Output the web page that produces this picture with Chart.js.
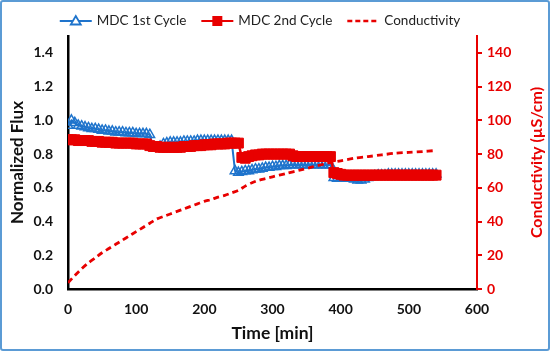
<!DOCTYPE html>
<html>
<head>
<meta charset="utf-8">
<script src="https://cdn.jsdelivr.net/npm/chart.js@4"></script>
<style>
  html, body { margin: 0; padding: 0; background: #fff; }
  #wrap { position: relative; width: 550px; height: 351px; }
  #frame { position: absolute; left: 0; top: 0; width: 550px; height: 351px; box-sizing: border-box;
           border: 2px solid #5b9bd5; border-radius: 3px; pointer-events: none; }
</style>
</head>
<body>
<div id="wrap">
  <canvas id="chart" width="550" height="351"></canvas>
  <div id="frame"></div>
</div>
<script>
// Data
const fluxTime = [0,5,10,15,20,25,30,35,40,45,50,55,60,65,70,75,80,85,90,95,
  100,105,110,115,120,125,130,135,140,145,150,155,160,165,170,175,180,185,190,195,
  200,205,210,215,220,225,230,235,240,245,250,255,260,265,270,275,280,285,290,295,
  300,305,310,315,320,325,330,335,340,345,350,355,360,365,370,375,380,385,390,395,
  400,405,410,415,420,425,430,435,440,445,450,455,460,465,470,475,480,485,490,495,
  500,505,510,515,520,525,530,535,540];

const cycle1Flux = [0.97,1.00,0.985,0.97,0.965,0.96,0.955,0.95,0.95,0.945,0.94,0.94,0.935,0.935,0.93,0.93,0.93,0.925,0.925,0.925,
  0.92,0.92,0.92,0.92,0.915,0.84,0.835,0.845,0.86,0.865,0.87,0.87,0.87,0.87,0.875,0.875,0.875,0.875,0.88,0.88,
  0.88,0.88,0.88,0.88,0.88,0.88,0.88,0.88,0.88,0.70,0.69,0.695,0.70,0.70,0.705,0.71,0.71,0.715,0.72,0.72,
  0.725,0.725,0.73,0.73,0.73,0.735,0.735,0.735,0.735,0.735,0.735,0.735,0.735,0.735,0.735,0.735,0.735,0.735,0.66,0.655,
  0.655,0.655,0.655,0.655,0.65,0.645,0.645,0.65,0.66,0.665,0.67,0.675,0.675,0.675,0.68,0.68,0.68,0.68,0.68,0.68,
  0.68,0.68,0.68,0.68,0.68,0.68,0.68,0.68,0.68];

const cycle2Flux = [0.885,0.885,0.885,0.88,0.88,0.88,0.88,0.875,0.875,0.875,0.87,0.87,0.87,0.87,0.865,0.865,0.865,0.865,0.865,0.865,
  0.86,0.86,0.86,0.86,0.85,0.845,0.845,0.84,0.84,0.84,0.84,0.84,0.84,0.84,0.845,0.845,0.845,0.85,0.85,0.85,
  0.855,0.855,0.855,0.86,0.86,0.86,0.86,0.865,0.865,0.865,0.865,0.78,0.775,0.785,0.79,0.795,0.795,0.80,0.80,0.80,
  0.80,0.80,0.80,0.80,0.80,0.80,0.79,0.785,0.785,0.785,0.785,0.785,0.785,0.785,0.785,0.785,0.785,0.785,0.69,0.685,
  0.68,0.675,0.675,0.675,0.675,0.675,0.675,0.675,0.675,0.675,0.675,0.675,0.675,0.675,0.675,0.675,0.675,0.675,0.675,0.675,
  0.675,0.675,0.675,0.675,0.675,0.675,0.675,0.675,0.675];

const condTime = [0,10,20,30,40,50,60,70,80,90,100,110,120,130,140,150,160,170,180,190,
  200,210,220,230,240,250,260,270,280,290,300,320,340,360,380,400,420,440,460,480,500,520,536];
const condValues = [3.7,8,12,15.5,18.5,21.5,24,26.5,29,31.5,34,36.5,39,41.5,43,44.5,46,47.5,49,50.5,
  52,53,54.5,55.5,57,58.5,61,63,64.5,65.5,66.5,68.5,70.5,72.5,74.5,76,77.5,78.5,79.5,80.5,81,81.5,82];

const seriesNames = ['MDC 1st Cycle', 'MDC 2nd Cycle', 'Conductivity'];
const xTitle = 'Time [min]';
const yTitle = 'Normalized Flux';
const y2Title = 'Conductivity (\u00B5S/cm)';

const BLUE = '#1f74cc';
const RED = '#e80000';
const FONT = 'Lato, "Liberation Sans", sans-serif';

const toPoints = (xs, ys) => xs.map((x, i) => ({ x: x, y: ys[i] }));

// legend drawn by hand so it can be placed like the reference
const legendPlugin = {
  id: 'customLegend',
  afterDraw(chart) {
    const ctx = chart.ctx;
    ctx.save();
    ctx.font = '13.5px ' + FONT;
    ctx.textBaseline = 'middle';
    const iconW = 32, gapIcon = 5, gapItem = 15, y = 21;
    const widths = seriesNames.map(n => ctx.measureText(n).width);
    const total = widths.reduce((s, w) => s + iconW + gapIcon + w, 0) + gapItem * (seriesNames.length - 1);
    let x = 260 - total / 2;
    seriesNames.forEach((name, i) => {
      ctx.lineWidth = 2;
      if (i === 2) { ctx.setLineDash([5, 3]); ctx.lineWidth = 2.5; }
      ctx.strokeStyle = i === 0 ? BLUE : RED;
      ctx.beginPath(); ctx.moveTo(x, y); ctx.lineTo(x + iconW, y); ctx.stroke();
      ctx.setLineDash([]);
      const cx = x + iconW / 2;
      if (i === 0) {
        ctx.fillStyle = '#fff'; ctx.lineWidth = 1.8;
        ctx.beginPath(); ctx.moveTo(cx, y - 5); ctx.lineTo(cx + 5, y + 3.5); ctx.lineTo(cx - 5, y + 3.5); ctx.closePath();
        ctx.fill(); ctx.stroke();
      } else if (i === 1) {
        ctx.fillStyle = RED; ctx.fillRect(cx - 5, y - 5, 10, 10);
      }
      ctx.fillStyle = '#222';
      ctx.fillText(name, x + iconW + gapIcon, y);
      x += iconW + gapIcon + widths[i] + gapItem;
    });
    // right axis title, reading bottom to top like the reference
    const area = chart.chartArea;
    ctx.fillStyle = RED;
    ctx.font = 'bold 16px ' + FONT;
    ctx.textAlign = 'center';
    ctx.translate(537, (area.top + area.bottom) / 2);
    ctx.rotate(-Math.PI / 2);
    ctx.fillText(y2Title, 0, 0);
    ctx.restore();
  }
};

new Chart(document.getElementById('chart'), {
  type: 'line',
  data: {
    datasets: [
      {
        label: seriesNames[0],
        data: toPoints(fluxTime, cycle1Flux),
        yAxisID: 'y',
        borderColor: BLUE,
        borderWidth: 2,
        pointStyle: 'triangle',
        pointRadius: 5.5,
        pointBorderWidth: 1.5,
        pointBackgroundColor: 'rgba(255,255,255,0)',
        pointBorderColor: BLUE,
        tension: 0,
        order: 3
      },
      {
        label: seriesNames[1],
        data: toPoints(fluxTime, cycle2Flux),
        yAxisID: 'y',
        borderColor: RED,
        borderWidth: 2.5,
        pointStyle: 'rect',
        pointRadius: 7,
        pointBorderWidth: 1,
        pointBackgroundColor: RED,
        pointBorderColor: RED,
        tension: 0,
        order: 2
      },
      {
        label: seriesNames[2],
        data: toPoints(condTime, condValues),
        yAxisID: 'y2',
        borderColor: RED,
        borderWidth: 2.8,
        borderDash: [6, 4],
        pointRadius: 0,
        tension: 0.3,
        order: 1
      }
    ]
  },
  options: {
    responsive: false,
    animation: false,
    layout: { padding: { top: 36, left: 0, right: 0, bottom: 0 } },
    plugins: { legend: { display: false }, tooltip: { enabled: false } },
    scales: {
      x: {
        type: 'linear',
        min: 0, max: 600,
        afterFit: s => { s.height = 62; },
        ticks: { stepSize: 100, padding: 12, color: '#111', font: { family: FONT, size: 14, weight: 'bold' } },
        grid: { display: false, drawTicks: false },
        border: { color: '#000', width: 2.5 },
        title: { display: true, text: xTitle, color: '#111', padding: { top: 0, bottom: 7 },
                 font: { family: FONT, size: 17.5, weight: 'bold' } }
      },
      y: {
        position: 'left',
        min: 0, max: 1.5,
        afterFit: s => { s.width = 68; },
        afterBuildTicks: s => { s.ticks = s.ticks.filter(t => t.value <= 1.4001); },
        ticks: { stepSize: 0.2, padding: 15, color: '#111', callback: v => v.toFixed(1),
                 font: { family: FONT, size: 14, weight: 'bold' } },
        grid: { display: false, drawTicks: false },
        border: { color: '#000', width: 2.5 },
        title: { display: true, text: yTitle, color: '#111', padding: { top: 7, bottom: 0 },
                 font: { family: FONT, size: 17, weight: 'bold' } }
      },
      y2: {
        position: 'right',
        min: 0, max: 150,
        afterFit: s => { s.width = 73; },
        afterBuildTicks: s => { s.ticks = s.ticks.filter(t => t.value <= 140.01); },
        ticks: { stepSize: 20, padding: 5, color: RED, font: { family: FONT, size: 14, weight: 'bold' } },
        grid: { display: true, drawOnChartArea: false, drawTicks: true, tickLength: 5, color: RED, lineWidth: 2 },
        border: { color: RED, width: 2 }
      }
    }
  },
  plugins: [legendPlugin]
});
</script>
</body>
</html>
